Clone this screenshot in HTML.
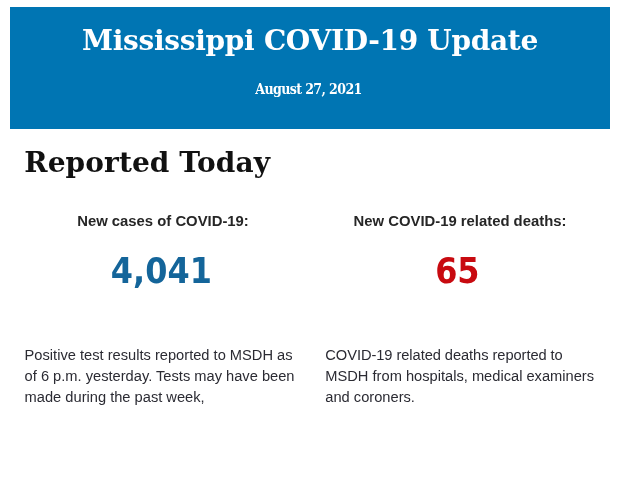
<!DOCTYPE html>
<html lang="en">
<head>
<meta charset="utf-8">
<title>Mississippi COVID-19 Update</title>
<style>
html,body{margin:0;padding:0;background:#fff;}
body{width:620px;height:483px;position:relative;overflow:hidden;font-family:"Liberation Sans",sans-serif;color:#333;}
.banner{position:absolute;left:10px;top:7px;width:600px;height:122px;background:#0075b3;}
.abs{position:absolute;white-space:nowrap;}
.serif{font-family:"DejaVu Serif","Liberation Serif",serif;font-weight:bold;}
#title{left:10px;top:21px;width:600px;text-align:center;color:#fff;font-size:28px;line-height:40px;letter-spacing:-0.3px;}
#date{left:8.5px;top:80px;width:600px;text-align:center;color:#fff;font-size:14px;line-height:18px;letter-spacing:-0.6px;font-family:"DejaVu Serif Condensed","DejaVu Serif","Liberation Serif",serif;}
#rt{left:24.3px;top:143px;color:#111;font-size:28px;line-height:40px;letter-spacing:0.1px;}
.lbl{font-weight:bold;font-size:14.85px;line-height:20px;color:#262626;text-align:center;}
#l1{left:13px;width:300px;top:211px;}
#l2{left:310px;width:300px;top:211px;}
.num{font-family:"DejaVu Sans","Liberation Sans",sans-serif;font-weight:bold;font-size:35px;line-height:40px;text-align:center;}
.num span{display:inline-block;transform:scaleX(0.912);}
#n1{left:11.5px;width:300px;top:250.6px;color:#14659a;}
#n2{left:307.3px;width:300px;top:250.6px;color:#c80a10;}
.p{font-size:14.667px;line-height:21px;color:#2b2b33;white-space:nowrap;}
#p1{left:24.6px;top:344.5px;}
#p2{left:325.3px;top:344.5px;}
</style>
</head>
<body>
<div class="banner"></div>
<div id="title" class="abs serif"><span>Mississippi COVID-19 Update</span></div>
<div id="date" class="abs serif"><span>August 27, 2021</span></div>
<div id="rt" class="abs serif"><span>Reported Today</span></div>
<div id="l1" class="abs lbl">New cases of COVID-19:</div>
<div id="l2" class="abs lbl">New COVID-19 related deaths:</div>
<div id="n1" class="abs num"><span>4,041</span></div>
<div id="n2" class="abs num"><span>65</span></div>
<div id="p1" class="abs p">Positive test results reported to MSDH as<br>of 6 p.m. yesterday. Tests may have been<br>made during the past week,</div>
<div id="p2" class="abs p"><span style="letter-spacing:-0.06px">COVID-19 related deaths reported to</span><br>MSDH from hospitals, medical examiners<br>and coroners.</div>
</body>
</html>
